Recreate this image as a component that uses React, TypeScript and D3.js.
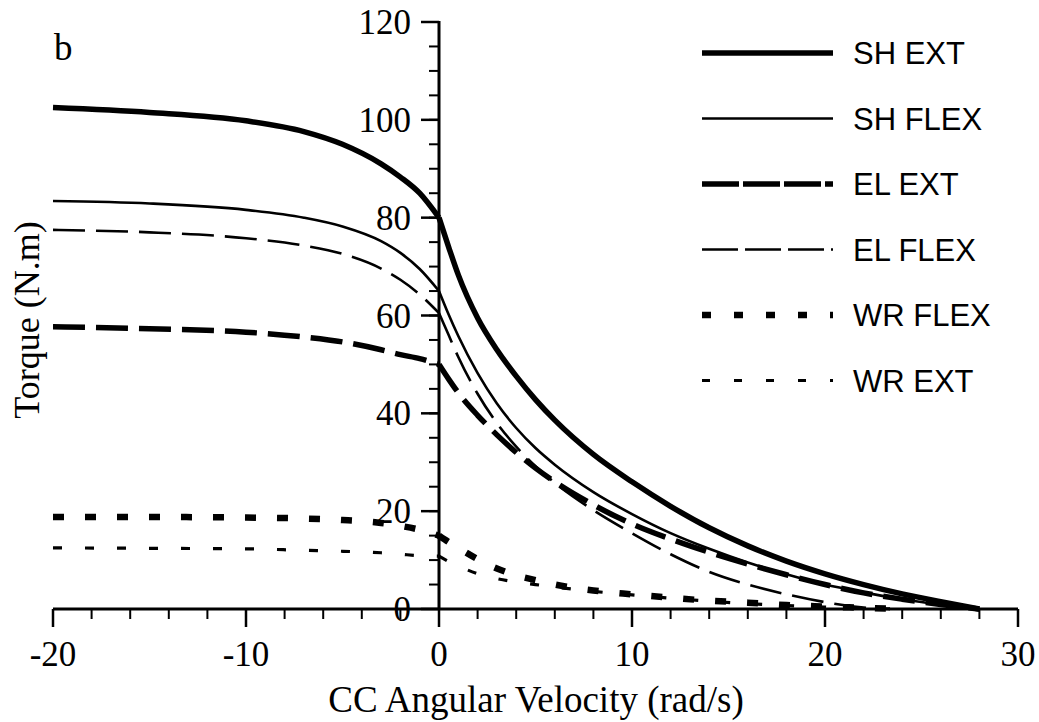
import React from 'react';
import * as d3 from 'd3';

const W = 1039;
const H = 722;

// Axis ticks
const xMajorTicks = [-20, -10, 0, 10, 20, 30];
const xTickLabels = ['-20', '-10', '0', '10', '20', '30'];
const yMajorTicks = [0, 20, 40, 60, 80, 100, 120];
const yTickLabels = ['0', '20', '40', '60', '80', '100', '120'];

// Velocities (rad/s)
const velLeft = [-20, -15, -10, -7, -5, -3, -2, -1, 0];
const velRight = [0, 0.5, 1, 2, 3, 4, 5, 6, 8, 10, 12, 14, 16, 18, 20, 22, 24, 26, 28];
const velRightEl = [0, 0.5, 1, 2, 3, 4, 5, 6, 8, 10, 12, 14, 16, 18, 20, 22, 23];
const velRightWr = [0, 0.5, 1, 2, 3, 4, 5, 6, 8, 10, 12, 14, 16, 18, 20, 22, 24];

// Torque (N.m)
const shExtLeft = [102.5, 101.5, 99.8, 97.6, 95.0, 91.0, 88.3, 85.0, 80];
const shExtRight = [80, 74.0, 68.3, 59.5, 53, 47.6, 42.8, 38.6, 31.6, 26.0, 21.0, 16.6, 12.9, 9.8, 7.2, 5.0, 3.1, 1.5, 0];
const shFlexLeft = [83.4, 82.9, 81.6, 80.0, 78.2, 75.2, 72.8, 69.5, 65];
const shFlexRight = [65, 60.2, 55.8, 48.2, 42.0, 37.0, 32.9, 29.5, 23.9, 19.4, 15.5, 12.3, 9.5, 7.1, 5.0, 3.4, 2.0, 0.9, 0];
const elExtLeft = [57.7, 57.3, 56.6, 55.6, 54.6, 53.0, 52.0, 51.2, 50];
const elExtRight = [50, 47, 44.2, 39.6, 35.6, 32.0, 28.8, 26.0, 21.3, 17.4, 14.3, 11.6, 9.2, 7.0, 5.0, 3.3, 2.0, 0.9, 0];
const elFlexLeft = [77.5, 77.0, 75.8, 74.3, 72.6, 69.6, 67.3, 64.3, 60.5];
const elFlexRight = [60.5, 56, 51.5, 44, 38, 33.2, 29.2, 25.8, 20.2, 15.5, 11.2, 7.6, 5.0, 3.0, 1.4, 0.3, 0];
const wrFlexLeft = [18.8, 18.8, 18.7, 18.5, 18.2, 17.6, 17.0, 16.2, 15];
const wrFlexRight = [15, 13.7, 12.5, 10.2, 8.3, 6.9, 5.9, 5.0, 3.8, 3.0, 2.3, 1.7, 1.3, 0.8, 0.5, 0.25, 0];
const wrExtLeft = [12.5, 12.4, 12.3, 12.0, 11.8, 11.5, 11.2, 10.9, 10.8];
const wrExtRight = [10.8, 9.7, 8.8, 7.2, 6.2, 5.5, 5.0, 4.5, 3.6, 2.9, 2.2, 1.6, 1.1, 0.7, 0.4, 0.15, 0];

const seriesNames = ['SH EXT', 'SH FLEX', 'EL EXT', 'EL FLEX', 'WR FLEX', 'WR EXT'];

type Style = { width: number; dash: string; legendDash: string };

const styles: Record<string, Style> = {
  'SH EXT': { width: 5.5, dash: 'none', legendDash: 'none' },
  'SH FLEX': { width: 2.6, dash: 'none', legendDash: 'none' },
  'EL EXT': { width: 5.5, dash: '32 11', legendDash: '37 4' },
  'EL FLEX': { width: 2.6, dash: '32 11', legendDash: '36 7' },
  'WR FLEX': { width: 6.5, dash: '11 21', legendDash: '9 23' },
  'WR EXT': { width: 3.2, dash: '9 23', legendDash: '8 24' },
};

const seriesData: Record<string, { lx: number[]; ly: number[]; rx: number[]; ry: number[] }> = {
  'SH EXT': { lx: velLeft, ly: shExtLeft, rx: velRight, ry: shExtRight },
  'SH FLEX': { lx: velLeft, ly: shFlexLeft, rx: velRight, ry: shFlexRight },
  'EL EXT': { lx: velLeft, ly: elExtLeft, rx: velRight, ry: elExtRight },
  'EL FLEX': { lx: velLeft, ly: elFlexLeft, rx: velRightEl, ry: elFlexRight },
  'WR FLEX': { lx: velLeft, ly: wrFlexLeft, rx: velRightWr, ry: wrFlexRight },
  'WR EXT': { lx: velLeft, ly: wrExtLeft, rx: velRightWr, ry: wrExtRight },
};

const serif = '"Liberation Serif", "Times New Roman", Times, serif';
const sans = '"Liberation Sans", Arial, Helvetica, sans-serif';

export default function App() {
  const x = d3.scaleLinear().domain([-20, 30]).range([53, 1018]);
  const y = d3.scaleLinear().domain([0, 120]).range([609, 22]);

  const line = d3
    .line<[number, number]>()
    .x((d) => x(d[0]))
    .y((d) => y(d[1]))
    .curve(d3.curveMonotoneX);

  const xMinor = x.ticks(25);
  const yMinor = y.ticks(24);

  const legendX0 = 702;
  const legendX1 = 833;
  const legendY0 = 53;
  const legendStep = 65.5;

  const axisW = 3;

  return (
    <svg
      width={W}
      height={H}
      style={{ position: 'absolute', left: 0, top: 0, display: 'block', background: '#fff' }}
    >
      <rect x={0} y={0} width={W} height={H} fill="#fff" />

      {/* Curves */}
      {seriesNames.map((name) => {
        const s = seriesData[name];
        const st = styles[name];
        const left = s.lx.map((v, i) => [v, s.ly[i]] as [number, number]);
        const right = s.rx.map((v, i) => [v, s.ry[i]] as [number, number]);
        return (
          <g key={name}>
            <path
              d={line(left) || ''}
              fill="none"
              stroke="#000"
              strokeWidth={st.width}
              strokeDasharray={st.dash}
            />
            <path
              d={line(right) || ''}
              fill="none"
              stroke="#000"
              strokeWidth={st.width}
              strokeDasharray={st.dash}
            />
          </g>
        );
      })}

      {/* X axis */}
      <line x1={x(-20)} x2={x(30)} y1={y(0)} y2={y(0)} stroke="#000" strokeWidth={axisW} />
      {xMinor.map((t) => (
        <line key={'xm' + t} x1={x(t)} x2={x(t)} y1={y(0)} y2={y(0) + 10} stroke="#000" strokeWidth={2} />
      ))}
      {xMajorTicks.map((t) => (
        <line key={'xM' + t} x1={x(t)} x2={x(t)} y1={y(0)} y2={y(0) + 18} stroke="#000" strokeWidth={2.5} />
      ))}
      {xMajorTicks.map((t, i) => (
        <text
          key={'xl' + t}
          x={x(t)}
          y={666}
          textAnchor="middle"
          fontFamily={serif}
          fontSize={35}
          fill="#000"
        >
          {xTickLabels[i]}
        </text>
      ))}

      {/* Y axis */}
      <line x1={x(0)} x2={x(0)} y1={y(0)} y2={y(120) - 1} stroke="#000" strokeWidth={axisW} />
      {yMinor.map((t) => (
        <line key={'ym' + t} x1={x(0) - 10} x2={x(0)} y1={y(t)} y2={y(t)} stroke="#000" strokeWidth={2} />
      ))}
      {yMajorTicks.map((t) => (
        <line key={'yM' + t} x1={x(0) - 18} x2={x(0)} y1={y(t)} y2={y(t)} stroke="#000" strokeWidth={2.5} />
      ))}
      {yMajorTicks.map((t, i) => (
        <text
          key={'yl' + t}
          x={x(0) - 28}
          y={y(t) + 12}
          textAnchor="end"
          fontFamily={serif}
          fontSize={35}
          fill="#000"
        >
          {yTickLabels[i]}
        </text>
      ))}

      {/* Axis titles */}
      <text x={536} y={712} textAnchor="middle" fontFamily={serif} fontSize={37} fill="#000">
        CC Angular Velocity (rad/s)
      </text>
      <text
        transform={`translate(39, 320) rotate(-90)`}
        textAnchor="middle"
        fontFamily={serif}
        fontSize={36}
        fill="#000"
      >
        Torque (N.m)
      </text>

      {/* Panel label */}
      <text x={54} y={60} fontFamily={serif} fontSize={37} fill="#000">
        b
      </text>

      {/* Legend */}
      {seriesNames.map((name, i) => {
        const st = styles[name];
        const ly = legendY0 + i * legendStep;
        return (
          <g key={'lg' + name}>
            <line
              x1={legendX0}
              x2={legendX1}
              y1={ly}
              y2={ly}
              stroke="#000"
              strokeWidth={st.width}
              strokeDasharray={st.legendDash}
            />
            <text x={853} y={ly + 11} fontFamily={sans} fontSize={31} fill="#000">
              {name}
            </text>
          </g>
        );
      })}
    </svg>
  );
}
